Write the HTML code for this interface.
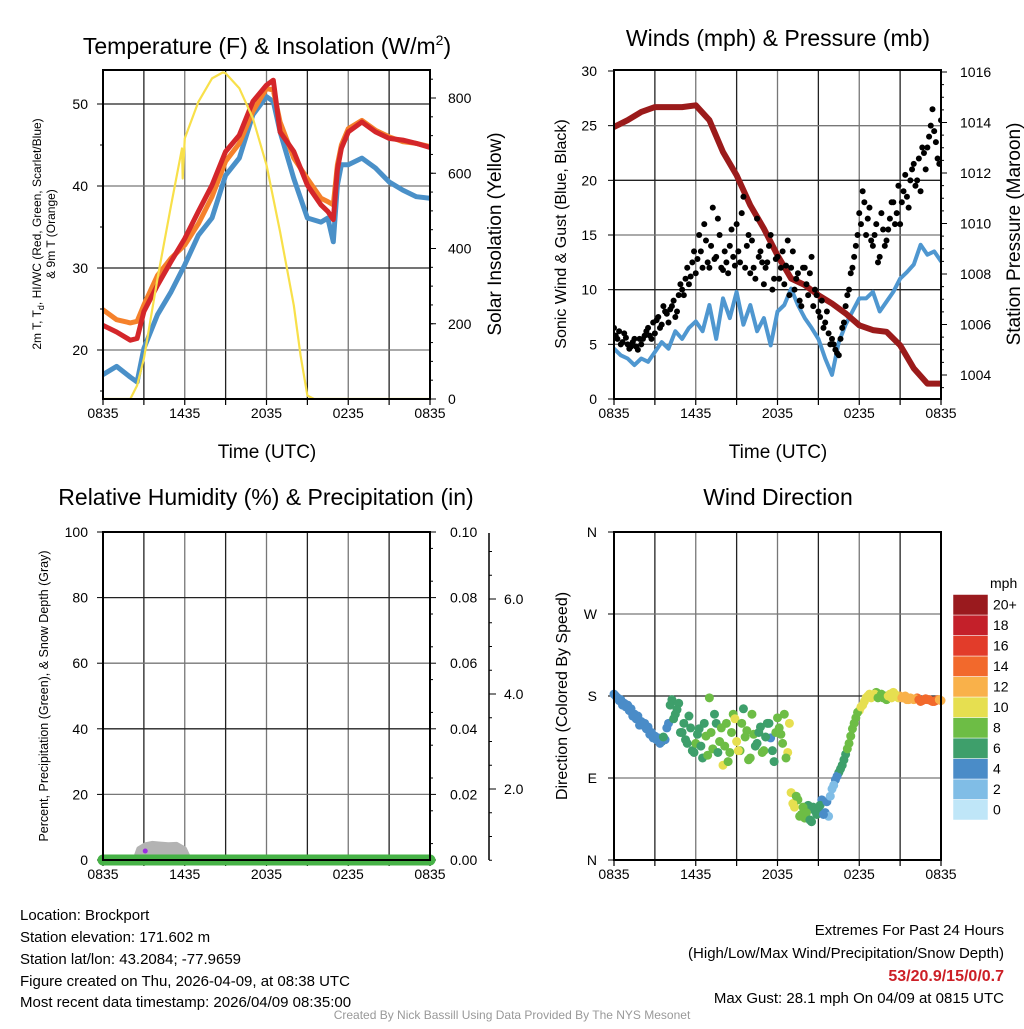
<!DOCTYPE html>
<html><head><meta charset="utf-8">
<style>
html,body{margin:0;padding:0;background:#fff;}
body{width:1024px;height:1024px;overflow:hidden;font-family:"Liberation Sans",Arial,sans-serif;}
svg text{font-family:"Liberation Sans",Arial,sans-serif;}
</style></head>
<body>
<svg id="chart" width="1024" height="1024" viewBox="0 0 1024 1024" xmlns="http://www.w3.org/2000/svg">
<g id="bg"><rect x="0" y="0" width="1024" height="1024" fill="#fff"/></g>
<text x="267" y="54" font-size="23" text-anchor="middle">Temperature (F) &amp; Insolation (W/m<tspan dy="-9" font-size="14">2</tspan><tspan dy="9">)</tspan></text>
<text x="778" y="46" font-size="23" text-anchor="middle">Winds (mph) &amp; Pressure (mb)</text>
<text x="266" y="505" font-size="23" text-anchor="middle">Relative Humidity (%) &amp; Precipitation (in)</text>
<text x="778" y="505" font-size="23" text-anchor="middle">Wind Direction</text>

<text x="267" y="458" font-size="19" text-anchor="middle">Time (UTC)</text>
<text x="778" y="458" font-size="19" text-anchor="middle">Time (UTC)</text>

<text transform="translate(41,234) rotate(-90)" font-size="12" text-anchor="middle">2m T, T<tspan dy="3" font-size="9">d</tspan><tspan dy="-3">, HI/WC (Red, Green, Scarlet/Blue)</tspan></text>
<text transform="translate(55,234) rotate(-90)" font-size="12" text-anchor="middle">&amp; 9m T (Orange)</text>
<text transform="translate(501,234) rotate(-90)" font-size="19" text-anchor="middle">Solar Insolation (Yellow)</text>
<text transform="translate(566,234) rotate(-90)" font-size="16" text-anchor="middle">Sonic Wind &amp; Gust (Blue, Black)</text>
<text transform="translate(1020,234) rotate(-90)" font-size="19" text-anchor="middle">Station Pressure (Maroon)</text>
<text transform="translate(48,696) rotate(-90)" font-size="12.5" text-anchor="middle">Percent, Precipitation (Green), &amp; Snow Depth (Gray)</text>
<text transform="translate(567,696) rotate(-90)" font-size="16" text-anchor="middle">Direction (Colored By Speed)</text>

<g font-size="15">
<text x="20" y="920">Location: Brockport</text>
<text x="20" y="942">Station elevation: 171.602 m</text>
<text x="20" y="964">Station lat/lon: 43.2084; -77.9659</text>
<text x="20" y="986">Figure created on Thu, 2026-04-09, at 08:38 UTC</text>
<text x="20" y="1007">Most recent data timestamp: 2026/04/09 08:35:00</text>
</g>
<g font-size="15" text-anchor="end">
<text x="1004" y="935">Extremes For Past 24 Hours</text>
<text x="1004" y="958">(High/Low/Max Wind/Precipitation/Snow Depth)</text>
<text x="1004" y="981" fill="#cc1f26" font-weight="bold" font-size="16">53/20.9/15/0/0.7</text>
<text x="1004" y="1003">Max Gust: 28.1 mph On 04/09 at 0815 UTC</text>
</g>
<text x="512" y="1019" font-size="12" fill="#999" text-anchor="middle">Created By Nick Bassill Using Data Provided By The NYS Mesonet</text>
</svg>
<script>
// ---- data ----
const xTickLabels = ["0835","1435","2035","0235","0835"];
const tempTimes = [0,1,2,2.5,3,4,5,6,7,8,9,10,11,12,12.5,13,14,15,16,16.5,16.9,17.2,17.5,18,19,20,21,22,23,24];
const tempRed = [23.0,22.2,21.2,21.4,24.7,27.9,30.8,33.6,36.9,40.1,44.2,46.2,50.3,52.3,52.9,46.6,44.2,40.1,37.7,36.9,35.9,42.0,44.6,46.6,47.8,46.6,45.8,45.6,45.2,44.7];
const temp9m = [24.9,23.7,23.3,23.5,25.5,29.1,31.2,32.8,35.4,38.7,43.0,45.2,49.1,51.9,51.7,47.8,43.4,40.9,38.5,38.1,37.7,42.6,45.0,47.0,48.0,46.8,46.0,45.4,45.2,44.8];
const tempWC = [17.0,18.0,16.7,16.1,20.2,24.3,27.1,30.4,34.0,36.1,41.3,43.4,48.7,50.9,50.3,46.6,40.9,36.1,35.6,36.1,33.2,40.1,42.6,42.6,43.4,42.2,40.5,39.5,38.7,38.5];
const tempTicks = [20,30,40,50];
const solarTimes = [0,2,2.5,3,4,5,5.8,5.85,6,7,8,8.8,9,10,11,12,13,14,14.5,15,15.5,24];
const solarVals = [0,0,36,107,320,515,666,586,693,790,852,868,866,826,746,622,444,249,115,9,0,0];
const solarTicks = [0,200,400,600,800];
const windSpeed = [4.6,4.0,3.7,3.1,3.7,3.4,4.3,5.2,4.6,6.2,5.5,6.5,7.1,6.2,8.6,5.5,9.2,7.4,9.8,6.8,8.6,6.2,7.4,4.9,8.0,8.6,10.1,8.6,7.4,6.5,5.5,3.7,2.2,5.2,6.8,8.0,9.2,9.2,9.8,8.0,8.9,9.8,11.0,11.6,12.3,14.1,13.2,13.5,12.6];
const windGust = [6.5,5.5,5.0,6.0,5.0,4.8,5.5,4.5,5.0,5.8,6.5,5.5,6.0,7.5,6.8,8.0,7.0,8.5,7.5,9.5,10.0,11.0,10.5,12.5,11.5,15.0,12.0,14.5,12.0,17.5,13.0,15.0,11.8,12.5,14.0,13.0,16.0,12.5,18.5,14.0,11.5,12.0,16.5,13.5,10.5,12.5,15.0,11.0,13.0,12.0,10.5,14.5,12.0,10.0,11.5,8.5,12.0,9.5,13.0,10.0,8.0,9.0,7.0,6.0,5.5,4.5,4.0,6.5,8.5,10.0,12.0,14.0,17.0,19.0,15.0,17.5,14.0,16.0,13.0,15.5,14.5,16.5,18.0,17.0,16.0,19.0,18.5,20.0,21.5,20.0,19.0,22.5,23.0,25.0,24.5,22.0,25.5];
const windGust2 = [5.8,6.2,5.2,5.6,4.6,5.2,4.8,5.5,5.5,6.2,5.8,7.0,7.2,6.5,8.5,7.8,8.2,9.0,8.0,10.5,9.5,12.0,11.2,13.5,12.8,13.5,16.0,12.5,14.0,12.8,16.5,12.0,13.5,11.5,15.5,12.2,13.5,17.0,12.0,15.0,14.5,11.0,13.0,12.5,12.0,14.0,10.0,12.8,11.0,13.5,12.2,9.5,13.5,11.0,9.0,12.0,10.5,11.5,8.5,9.5,7.5,6.5,8.0,5.0,5.0,4.2,5.5,7.0,9.5,11.5,13.0,15.0,16.0,18.0,16.5,14.5,15.0,12.5,17.0,14.0,15.5,18.0,16.0,19.5,18.0,20.5,17.5,21.0,19.5,22.0,23.0,21.0,24.0,26.5,23.5,21.5];
const windTicks = [0,5,10,15,20,25,30];
const pressureVals = [1013.82,1014.09,1014.42,1014.61,1014.61,1014.61,1014.68,1014.09,1012.83,1011.91,1010.72,1009.80,1008.74,1007.82,1007.56,1007.16,1006.83,1006.44,1005.97,1005.78,1005.71,1005.18,1004.26,1003.66,1003.66];
const pressureTicks = [1004,1006,1008,1010,1012,1014,1016];
const rhTicks = [0,20,40,60,80,100];
const precipTicks = ["0.00","0.02","0.04","0.06","0.08","0.10"];
const precipVals = [0,0,0,0,0,0,0,0,0,0,0,0,0,0,0,0,0,0,0,0,0,0,0,0,0];
const snowTimes = [2.3,2.6,3.1,3.6,4.2,4.8,5.4,6.0,6.4];
const snowDepth = [0,3.5,4.8,5.2,5.0,4.8,4.9,3.5,0];
const snowTicks = ["2.0","4.0","6.0"];
const windDir = [182,178,176,172,170,166,160,158,152,150,146,140,136,134,130,132,150,176,160,172,140,132,158,120,128,144,112,136,178,122,150,130,104,150,118,160,130,120,166,142,112,138,128,146,120,150,134,108,156,138,160,118,74,58,66,50,46,60,42,54,56,66,52,48,78,88,96,104,116,128,144,156,164,170,178,182,180,184,180,178,176,182,184,180,180,178,176,178,176,178,174,176,176,175,174,176,175];
const windDir2 = [180,175,170,168,164,158,155,148,148,144,138,134,132,128,135,145,170,155,165,140,150,128,145,118,138,125,150,115,140,160,118,145,125,108,140,155,120,150,135,110,160,125,140,118,135,150,120,140,145,128,112,150,62,70,48,58,52,44,58,50,60,50,64,70,82,92,100,110,122,136,150,162,168,174,180,178,182,178,182,180,180,178,182,178,178,180,176,177,177,176,175,177,176,174,175,176];
const dirLabels = ["N","E","S","W","N"];
const cbLabels = ["0","2","4","6","8","10","12","14","16","18","20+"];
const cbColors = ["#bfe6f8","#80bde6","#4a8cc8","#3e9f6b","#6dbd45","#e6df50","#f9b14a","#f2692c","#e23c2a","#c4202a","#9a1a1e"];

// ---- helpers ----
const NS = "http://www.w3.org/2000/svg";
const svg = document.getElementById("chart");
function mk(tag, attrs, name, parent) {
  const el = document.createElementNS(NS, tag);
  for (const k in attrs) el.setAttribute(k, attrs[k]);
  
  
  (parent || svg).appendChild(el);
  return el;
}
function panel(x0, x1, y0, y1) {
  return {x0, x1, y0, y1, sx: h => x0 + (x1 - x0) * h / 24};
}
function lin(d0, d1, p0, p1) { return v => p0 + (v - d0) * (p1 - p0) / (d1 - d0); }
function gridAndTime(P, name, hLines) {
  const g = mk('g', {}, name + '-grid');
  for (let h = 3; h < 24; h += 3) {
    mk('line', {x1: P.sx(h), x2: P.sx(h), y1: P.y0, y2: P.y1, stroke: (h % 6 === 0) ? '#777' : '#222', 'stroke-width': 1.3}, name + '-vgrid', g);
  }
  hLines.forEach((y, i) => {
    mk('line', {x1: P.x0, x2: P.x1, y1: y, y2: y, stroke: (i % 2 === 0) ? '#777' : '#222', 'stroke-width': 1.3}, name + '-hgrid', g);
  });
  for (let h = 0; h <= 24; h += 3) {
    mk('line', {x1: P.sx(h), x2: P.sx(h), y1: P.y1, y2: P.y1 + 6, stroke: '#000', 'stroke-width': 1.2}, name + '-x-tick', g);
  }
  xTickLabels.forEach((t, i) => {
    const tx = mk('text', {x: P.sx(i * 6), y: P.y1 + 19, 'font-size': 14, 'text-anchor': 'middle'}, name + '-x-tick-label', g);
    tx.textContent = t;
  });
}
function frame(P, name) {
  mk('rect', {x: P.x0, y: P.y0, width: P.x1 - P.x0, height: P.y1 - P.y0, fill: 'none', stroke: '#000', 'stroke-width': 2}, name + '-frame');
}
function poly(xs, ys, color, w, name, parent) {
  const pts = xs.map((x, i) => x.toFixed(1) + ',' + ys[i].toFixed(1)).join(' ');
  return mk('polyline', {points: pts, fill: 'none', stroke: color, 'stroke-width': w, 'stroke-linejoin': 'round', 'stroke-linecap': 'round'}, name, parent);
}
function halfHours(n) { return Array.from({length: n}, (_, i) => i * 24 / (n - 1)); }
function midTimes(n) { return Array.from({length: n}, (_, i) => (i + 0.5) * 24 / n); }

// ---- Panel 1: temperature ----
const P1 = panel(103, 430, 70, 399);
const ty = lin(20, 50, 350, 104);
const sy = lin(0, 800, 399, 98);
gridAndTime(P1, 'temp', tempTicks.map(ty));
tempTicks.forEach(v => {
  const t = mk('text', {x: 88, y: ty(v) + 5, 'font-size': 14, 'text-anchor': 'end'}, 'temp-y-tick-label');
  t.textContent = v;
  mk('line', {x1: P1.x0 - 6, x2: P1.x0, y1: ty(v), y2: ty(v), stroke: '#000'}, 'temp-y-tick');
});
for (let v = 15; v <= 55; v += 5) { if (ty(v) > P1.y0 && ty(v) < P1.y1) mk('line', {x1: P1.x0 - 3, x2: P1.x0, y1: ty(v), y2: ty(v), stroke: '#000'}, 'temp-y-minor-tick'); }
solarTicks.forEach(v => {
  const t = mk('text', {x: 448, y: sy(v) + 5, 'font-size': 14}, 'solar-y-tick-label');
  t.textContent = v;
  mk('line', {x1: P1.x1, x2: P1.x1 + 6, y1: sy(v), y2: sy(v), stroke: '#000'}, 'solar-y-tick');
});
for (let v = 50; v <= 850; v += 50) mk('line', {x1: P1.x1, x2: P1.x1 + 3, y1: sy(v), y2: sy(v), stroke: '#000'}, 'solar-y-minor-tick');
const clip1 = mk('clipPath', {id: 'c1'}, 'temp-clip');
mk('rect', {x: P1.x0, y: P1.y0, width: P1.x1 - P1.x0, height: P1.y1 - P1.y0}, 'temp-clip-rect', clip1);
const g1 = mk('g', {'clip-path': 'url(#c1)'}, 'temp-series');
poly(tempTimes.map(P1.sx), tempWC.map(ty), '#4a90c8', 5, 'windchill-line', g1);
poly(tempTimes.map(P1.sx), temp9m.map(ty), '#f5812b', 5, 'temp-9m-line', g1);
poly(tempTimes.map(P1.sx), tempRed.map(ty), '#d4262a', 5, 'temp-2m-line', g1);
poly(solarTimes.map(P1.sx), solarVals.map(sy), '#f8e04a', 2.2, 'solar-line', g1);
frame(P1, 'temp');

// ---- Panel 2: wind & pressure ----
const P2 = panel(614, 941, 70, 399);
const wy = lin(0, 30, 399, 71);
const py = lin(1004, 1016, 375, 72);
gridAndTime(P2, 'wind', windTicks.slice(1, 6).map(wy));
windTicks.forEach(v => {
  const t = mk('text', {x: 597, y: wy(v) + 5, 'font-size': 14, 'text-anchor': 'end'}, 'wind-y-tick-label');
  t.textContent = v;
  mk('line', {x1: P2.x0 - 6, x2: P2.x0, y1: wy(v), y2: wy(v), stroke: '#000'}, 'wind-y-tick');
});
pressureTicks.forEach(v => {
  const t = mk('text', {x: 960, y: py(v) + 5, 'font-size': 14}, 'pressure-y-tick-label');
  t.textContent = v;
  mk('line', {x1: P2.x1, x2: P2.x1 + 6, y1: py(v), y2: py(v), stroke: '#000'}, 'pressure-y-tick');
});
for (let v = 1003.5; v <= 1016; v += 0.5) mk('line', {x1: P2.x1, x2: P2.x1 + 3, y1: py(v), y2: py(v), stroke: '#000'}, 'pressure-y-minor-tick');
const clip2 = mk('clipPath', {id: 'c2'}, 'wind-clip');
mk('rect', {x: P2.x0, y: P2.y0, width: P2.x1 - P2.x0, height: P2.y1 - P2.y0}, 'wind-clip-rect', clip2);
const g2 = mk('g', {'clip-path': 'url(#c2)'}, 'wind-series');
poly(halfHours(windSpeed.length).map(P2.sx), windSpeed.map(wy), '#4f97d0', 4, 'wind-speed-line', g2);
poly(halfHours(pressureVals.length).map(P2.sx), pressureVals.map(py), '#9b1b1b', 6, 'pressure-line', g2);
const gt = halfHours(windGust.length);
windGust.forEach((v, i) => {
  mk('circle', {cx: P2.sx(gt[i]), cy: wy(v), r: 3, fill: '#000'}, 'gust-point', g2);
});
const gt2 = midTimes(windGust2.length);
windGust2.forEach((v, i) => {
  mk('circle', {cx: P2.sx(gt2[i]), cy: wy(v), r: 3, fill: '#000'}, 'gust-point', g2);
});
frame(P2, 'wind');

// ---- Panel 3: RH & precip ----
const P3 = panel(103, 430, 532, 860);
const ry = lin(0, 100, 860, 532);
const sny = lin(0, 2, 884, 789);
gridAndTime(P3, 'rh', [20, 40, 60, 80].map(ry));
rhTicks.forEach(v => {
  const t = mk('text', {x: 88, y: ry(v) + 5, 'font-size': 14, 'text-anchor': 'end'}, 'rh-y-tick-label');
  t.textContent = v;
  mk('line', {x1: P3.x0 - 6, x2: P3.x0, y1: ry(v), y2: ry(v), stroke: '#000'}, 'rh-y-tick');
});
precipTicks.forEach((v, i) => {
  const t = mk('text', {x: 450, y: ry(i * 20) + 5, 'font-size': 14}, 'precip-y-tick-label');
  t.textContent = v;
  mk('line', {x1: P3.x1, x2: P3.x1 + 6, y1: ry(i * 20), y2: ry(i * 20), stroke: '#000'}, 'precip-y-tick');
});
for (let v = 5; v < 100; v += 10) mk('line', {x1: P3.x1, x2: P3.x1 + 3, y1: ry(v), y2: ry(v), stroke: '#000'}, 'precip-y-minor-tick');
mk('line', {x1: 489, x2: 489, y1: 533, y2: 860, stroke: '#000', 'stroke-width': 1.5}, 'snow-axis-line');
for (let v = 0.5; v <= 7.01; v += 0.5) mk('line', {x1: 489, x2: 492, y1: sny(v), y2: sny(v), stroke: '#000'}, 'snow-minor-tick');
snowTicks.forEach((s, i) => {
  const v = (i + 1) * 2;
  mk('line', {x1: 489, x2: 496, y1: sny(v), y2: sny(v), stroke: '#000'}, 'snow-tick');
  const t = mk('text', {x: 504, y: sny(v) + 5, 'font-size': 14}, 'snow-tick-label');
  t.textContent = s;
});
const sx3 = snowTimes.map(P3.sx);
const spts = sx3.map((x, i) => x.toFixed(1) + ',' + ry(snowDepth[i]).toFixed(1)).join(' ');
mk('polygon', {points: spts, fill: '#b3b3b3', stroke: '#b3b3b3', 'stroke-width': 4, 'stroke-linejoin': 'round'}, 'snow-depth-area');
poly(halfHours(precipVals.length).map(P3.sx), precipVals.map(v => ry(v * 1000)), '#46b246', 11, 'precip-line');
mk('circle', {cx: P3.sx(3.1), cy: 851, r: 2.5, fill: '#9a2ee0'}, 'rh-point');
frame(P3, 'rh');

// ---- Panel 4: wind direction ----
const P4 = panel(614, 941, 532, 860);
const dy = lin(0, 360, 860, 532);
gridAndTime(P4, 'winddir', [90, 180, 270].map(dy));
dirLabels.forEach((s, i) => {
  const t = mk('text', {x: 597, y: dy(i * 90) + 5, 'font-size': 14, 'text-anchor': 'end'}, 'winddir-y-tick-label');
  t.textContent = s;
  mk('line', {x1: P4.x0 - 6, x2: P4.x0, y1: dy(i * 90), y2: dy(i * 90), stroke: '#000'}, 'winddir-y-tick');
});
function speedAt(h) {
  const k = Math.min(windSpeed.length - 2, Math.floor(h * 2));
  const f = h * 2 - k;
  return windSpeed[k] * (1 - f) + windSpeed[k + 1] * f;
}
function dirPoint(h, d) {
  const s = speedAt(h);
  const ci = Math.min(10, Math.max(0, Math.round(s / 2)));
  mk('circle', {cx: P4.sx(h), cy: dy(d), r: 4.5, fill: cbColors[ci]}, 'winddir-point');
}
const dt = halfHours(windDir.length);
windDir.forEach((d, i) => dirPoint(dt[i], d));
const dt2 = midTimes(windDir2.length);
windDir2.forEach((d, i) => dirPoint(dt2[i], d));
frame(P4, 'winddir');
// colorbar
const cbTitle = mk('text', {x: 990, y: 588, 'font-size': 14}, 'colorbar-title');
cbTitle.textContent = 'mph';
cbColors.forEach((c, i) => {
  const top = 820 - (i + 1) * 20.5;
  mk('rect', {x: 953, y: top, width: 35, height: 20.5, fill: c, stroke: '#fff', 'stroke-width': 0.5}, 'colorbar-swatch');
  const t = mk('text', {x: 993, y: top + 15, 'font-size': 14}, 'colorbar-label');
  t.textContent = cbLabels[i];
});
</script>
</body></html>
